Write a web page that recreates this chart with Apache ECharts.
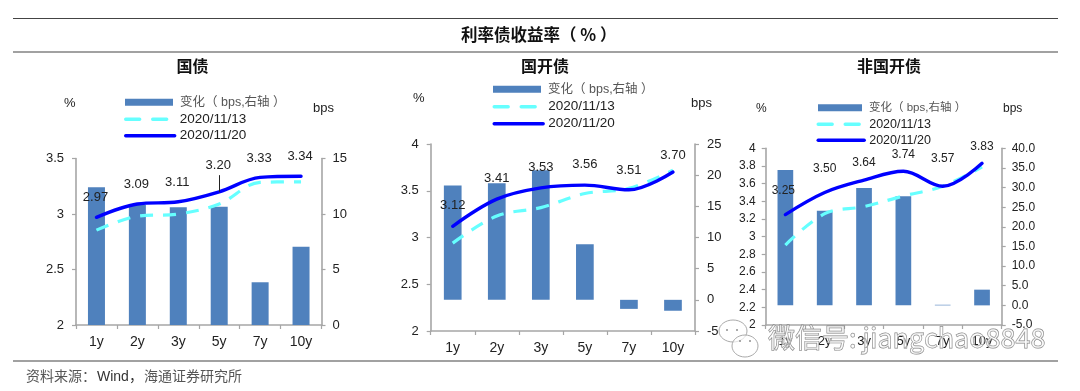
<!DOCTYPE html>
<html><head><meta charset="utf-8">
<style>html,body{margin:0;padding:0;background:#fff}#c{width:1080px;height:391px}</style>
<script src="https://cdn.jsdelivr.net/npm/echarts@6/dist/echarts.min.js"></script>
</head><body><div id="c"></div>
<script>
const categories = ['1y','2y','3y','5y','7y','10y'];
const names = ['变化（ bps,右轴 ）','2020/11/13','2020/11/20'];
const govChange = [12.4,10.8,10.6,10.65,3.85,7.05];
const gov1113 = [2.855,2.98,3.0,3.09,3.285,3.29];
const gov1120 = [2.97,3.09,3.11,3.20,3.33,3.34];
const cdbChange = [18.35,18.7,20.8,8.9,-1.45,-1.75];
const cdb1113 = [2.94,3.23,3.32,3.47,3.525,3.72];
const cdb1120 = [3.12,3.41,3.53,3.56,3.51,3.70];
const nonChange = [34.5,24.1,29.9,27.8,0.15,4.0];
const non1113 = [2.905,3.26,3.34,3.46,3.57,3.79];
const non1120 = [3.25,3.50,3.64,3.74,3.57,3.83];

const SANS = '"Liberation Sans","Noto Sans CJK SC",sans-serif';
const CJK = '"Noto Sans CJK SC",sans-serif';
const panels = [
 {title:'国债', tx:192.5, g:[76,158.5,245.5,166.5], fs:13, barW:17, mL:12, mR:11,
  l:[2,3.5,0.5], r:[0,15,5], rDigits:0, ch:govChange,a:gov1113,b:gov1120,
  off:[[-1,-8],[-1,-8],[-1,-7],[-1,-14],[-1,-7],[-1,-8]],
  legLine:[124,49], legBar:[125,48], legTop:96, legStep:16.5, pct:[64,97], bps:[313,102]},
 {title:'国开债', tx:545, g:[430.7,144,264.3,187], fs:13, barW:17.7, mL:12, mR:12,
  l:[2,4,0.5], r:[-5,25,5], rDigits:0, ch:cdbChange,a:cdb1113,b:cdb1120,
  off:[[0,-9],[0,-9],[0,-9],[0,-9],[0,-7],[0,-5]],
  legLine:[492.5,49], legBar:[493,48], legTop:83, legStep:17, pct:[413,92], bps:[691,97]},
 {title:'非国开债', tx:889, g:[765.7,148.3,236,176.7], fs:12, barW:15.7, mL:10, mR:10,
  l:[2,4,0.2], r:[-5,40,5], rDigits:1, ch:nonChange,a:non1113,b:non1120,
  off:[[-2,-12],[0,-12],[0,-6],[0,-5],[0,-16],[0,-5]],
  legLine:[816.5,46], legBar:[818,44], legTop:102, legStep:16, pct:[756,103], bps:[1003,103]}
];
const axisLine = {show:true,onZero:false,lineStyle:{color:'#A6A6A6',width:1.6}};
const axisTick = {show:true,length:4,lineStyle:{color:'#A6A6A6',width:1.2}};
const grid=[],xAxis=[],yAxis=[],series=[],legend=[],title=[],graphic=[];
panels.forEach((p,i)=>{
  grid.push({left:p.g[0],top:p.g[1],width:p.g[2],height:p.g[3],containLabel:false});
  xAxis.push({type:'category',gridIndex:i,data:categories,position:'bottom',axisLine,axisTick:{...axisTick,alignWithLabel:false},
    axisLabel:{color:'#222',fontFamily:SANS,fontSize:p.fs+1,margin:10,interval:0},splitLine:{show:false}});
  yAxis.push({type:'value',gridIndex:i,position:'left',min:p.l[0],max:p.l[1],interval:p.l[2],axisLine,axisTick,splitLine:{show:false},
    axisLabel:{color:'#222',fontFamily:SANS,fontSize:p.fs,margin:p.mL,showMinLabel:true,showMaxLabel:true,
      formatter:v=>String(+v.toFixed(1))}});
  yAxis.push({type:'value',gridIndex:i,position:'right',min:p.r[0],max:p.r[1],interval:p.r[2],axisLine,axisTick,splitLine:{show:false},
    axisLabel:{color:'#222',fontFamily:SANS,fontSize:p.fs,margin:p.mR,showMinLabel:true,showMaxLabel:true,
      formatter:v=>v.toFixed(p.rDigits)}});
  const xi=i,yl=i*2,yr=i*2+1;
  series.push({type:'bar',name:names[0],xAxisIndex:xi,yAxisIndex:yr,data:p.ch,barWidth:p.barW,
    itemStyle:{color:'#4F81BD'},z:2,legendHoverLink:false});
  series.push({type:'line',name:names[1],xAxisIndex:xi,yAxisIndex:yl,data:p.a,smooth:0.35,symbol:'none',
    lineStyle:{color:'#66FFFF',width:3.2,type:[13,10]},z:3});
  const extra = i===0 ? {markLine:{silent:true,symbol:'none',label:{show:false},animation:false,
      lineStyle:{color:'#222',width:1,type:'solid'},
      data:[[{xAxis:'5y',yAxis:3.20},{xAxis:'5y',yAxis:3.35}]]}} : {};
  series.push({type:'line',name:names[2],xAxisIndex:xi,yAxisIndex:yl,smooth:0.35,symbol:'none',showSymbol:true,
    lineStyle:{color:'#0000FF',width:3.4,cap:'round'},z:4,
    data:p.b.map((v,k)=>({value:v,symbol:'circle',symbolSize:1,itemStyle:{color:'#0000FF'},
      label:{show:true,position:'top',offset:p.off[k],formatter:v.toFixed(2),color:'#222',fontFamily:SANS,fontSize:p.fs}})),
    ...extra});
  names.forEach((n,k)=>{
    const pos = k===0 ? p.legBar : p.legLine;
    const row = {left:pos[0],top:p.legTop+k*p.legStep,orient:'vertical',padding:0,itemWidth:pos[1],itemHeight:k===0?7:3,itemGap:0,
      data:[n],selectedMode:false,
      textStyle:{color:k===0?'#555':'#222',fontFamily:SANS,fontSize:k===0?(p.fs-0.5):(p.fs+0.5),padding:[0,0,0,k===0?2:0]}};
    if(k===0) row.icon='rect';
    else { row.itemStyle={opacity:0}; row.lineStyle={width:3.4,type:k===1?[14,13]:'solid',cap:'round'}; }
    legend.push(row);
  });
  title.push({text:p.title,left:p.tx,top:58,textAlign:'center',padding:0,
    textStyle:{fontFamily:CJK,fontWeight:700,fontSize:16,color:'#111'}});
  graphic.push({type:'text',left:p.pct[0],top:p.pct[1],style:{text:'%',fill:'#222',font:`${p.fs}px ${SANS}`}});
  graphic.push({type:'text',left:p.bps[0],top:p.bps[1],style:{text:'bps',fill:'#222',font:`${p.fs}px ${SANS}`}});
});
title.push({text:'利率债收益率（ % ）',left:461,top:26,padding:0,
  textStyle:{fontFamily:CJK,fontWeight:700,fontSize:16.5,color:'#111'}});
[18.5,52,361].forEach(y=>{
  graphic.push({type:'line',shape:{x1:13,y1:y,x2:1058,y2:y},style:{stroke:'#444',lineWidth:1.2},z:5});
});
graphic.push({type:'text',x:26,y:369,style:{text:'资料来源：',fill:'#555',font:`14px ${CJK}`}});
graphic.push({type:'text',x:97,y:370,style:{text:'Wind，',fill:'#333',font:`14px ${SANS}`}});
graphic.push({type:'text',x:144,y:369,style:{text:'海通证券研究所',fill:'#555',font:`14px ${CJK}`}});
// watermark
const mark = {fill:'rgba(255,255,255,0.65)',stroke:'#aaa',lineWidth:1};
graphic.push({type:'ellipse',shape:{cx:733,cy:331,rx:14,ry:11},z:19,style:mark});
graphic.push({type:'ellipse',shape:{cx:745,cy:346,rx:13,ry:11},z:20,style:mark});
[[727,330],[737,330],[740,341],[750,341]].forEach(([cx,cy])=>{
  graphic.push({type:'ellipse',shape:{cx,cy,rx:1,ry:1},z:21,style:{fill:'#999'}});
});
graphic.push({type:'text',x:768,y:324,z:22,style:{text:'微信号: jiangchao8848',fill:'rgba(255,255,255,0.55)',stroke:'#808080',lineWidth:0.9,font:`27px ${CJK}`}});

const chart = echarts.init(document.getElementById('c'),null,{renderer:'canvas'});
chart.setOption({animation:false,backgroundColor:'#fff',grid,xAxis,yAxis,series,legend,title,graphic});
</script></body></html>
